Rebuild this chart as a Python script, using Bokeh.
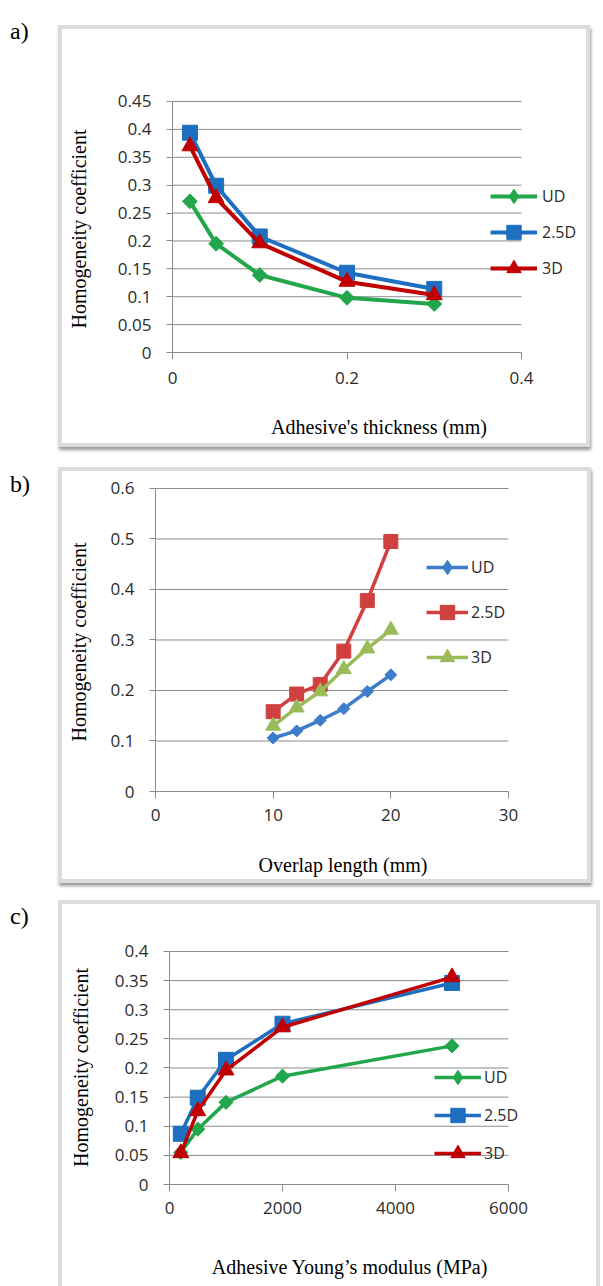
from bokeh.plotting import figure
from bokeh.models import Range1d, FixedTicker, Legend, LegendItem, Div
from bokeh.layouts import column, row
from bokeh.embed import file_html
from bokeh.resources import INLINE

# ---------------- data ----------------
series_names = ["UD", "2.5D", "3D"]

# a) adhesive thickness
a_thickness = [0.02, 0.05, 0.1, 0.2, 0.3]
a_ud = [0.271, 0.195, 0.139, 0.098, 0.087]
a_25d = [0.394, 0.299, 0.208, 0.143, 0.114]
a_3d = [0.370, 0.277, 0.196, 0.127, 0.103]
a_xticks = [0, 0.2, 0.4]
a_xtick_labels = ["0", "0.2", "0.4"]
a_yticks = [0, 0.05, 0.1, 0.15, 0.2, 0.25, 0.3, 0.35, 0.4, 0.45]
a_ytick_labels = ["0", "0.05", "0.1", "0.15", "0.2", "0.25", "0.3", "0.35", "0.4", "0.45"]

# b) overlap length
b_overlap = [10, 12, 14, 16, 18, 20]
b_ud = [0.106, 0.120, 0.141, 0.164, 0.198, 0.231]
b_25d = [0.158, 0.193, 0.212, 0.278, 0.378, 0.495]
b_3d = [0.130, 0.166, 0.198, 0.242, 0.283, 0.320]
b_xticks = [0, 10, 20, 30]
b_xtick_labels = ["0", "10", "20", "30"]
b_yticks = [0, 0.1, 0.2, 0.3, 0.4, 0.5, 0.6]
b_ytick_labels = ["0", "0.1", "0.2", "0.3", "0.4", "0.5", "0.6"]

# c) adhesive Young's modulus
c_modulus = [200, 500, 1000, 2000, 5000]
c_ud = [0.055, 0.095, 0.141, 0.186, 0.238]
c_25d = [0.087, 0.149, 0.214, 0.276, 0.346]
c_3d = [0.054, 0.126, 0.196, 0.270, 0.356]
c_xticks = [0, 2000, 4000, 6000]
c_xtick_labels = ["0", "2000", "4000", "6000"]
c_yticks = [0, 0.05, 0.1, 0.15, 0.2, 0.25, 0.3, 0.35, 0.4]
c_ytick_labels = ["0", "0.05", "0.1", "0.15", "0.2", "0.25", "0.3", "0.35", "0.4"]

GRID = "#8c8c8c"
TICKTXT = "#2b2b2b"
SANS = "Open Sans"
SERIF = "Liberation Serif"
BORDER = 4  # css border width of the panel box (shifts the canvas inside)


def make_panel(x, ys, colors, markers, legend_markers, sizes, angles, lw,
               xticks, xlabels, yticks, ylabels, xtitle, ytitle,
               W, H, mbl, mbr, mbt, mbb, x_axis_px, margin_top,
               ylab_standoff, xlab_standoff, xtick_standoff,
               leg_loc, leg_gw, leg_gh, leg_sp, leg_std, box_style):
    mbl, mbr, mbt, mbb = mbl - BORDER, mbr + BORDER, mbt - BORDER, mbb + BORDER
    frame_w = W - mbl - mbr
    frame_h = H - mbt - mbb
    x_end = xticks[-1] * frame_w / x_axis_px
    y_pad = (yticks[-1] - yticks[0]) / frame_h * 1.0
    p = figure(width=W, height=H, output_backend="svg", toolbar_location=None,
               x_range=Range1d(xticks[0], x_end),
               y_range=Range1d(yticks[0], yticks[-1] + y_pad),
               min_border_left=mbl, min_border_right=mbr,
               min_border_top=mbt, min_border_bottom=mbb,
               margin=(margin_top, 0, 0, 0), styles=box_style)
    p.outline_line_color = None
    p.xgrid.visible = False
    p.ygrid.visible = False
    p.background_fill_color = "white"
    p.border_fill_color = "white"

    # horizontal gridlines limited to the x-axis extent
    p.segment(x0=xticks[0], x1=xticks[-1], y0=yticks, y1=yticks,
              line_color=GRID, line_width=1)

    items = []
    for name, yv, col, mk, lmk, sz, ang in zip(series_names, ys, colors, markers,
                                               legend_markers, sizes, angles):
        lr = p.line(x, yv, line_color=col, line_width=lw)
        sr = p.scatter(x, yv, marker=mk, size=sz, angle=ang,
                       fill_color=col, line_color=col)
        if lmk != mk:
            # legend-only marker shape (legend glyphs ignore rotation)
            lm = p.scatter(x, yv, marker=lmk, size=sz, fill_color=col,
                           line_color=col, visible=False)
            items.append(LegendItem(label=name, renderers=[lr, lm]))
        else:
            items.append(LegendItem(label=name, renderers=[lr, sr]))

    leg = Legend(items=items, location=leg_loc, padding=0, margin=0,
                 glyph_width=leg_gw, glyph_height=leg_gh, label_height=leg_gh,
                 spacing=leg_sp, label_standoff=leg_std,
                 label_text_font=SANS, label_text_font_size="16px",
                 label_text_color=TICKTXT,
                 border_line_alpha=0, background_fill_alpha=0)
    p.add_layout(leg)

    xa = p.xaxis[0]
    xa.ticker = FixedTicker(ticks=xticks)
    xa.major_label_overrides = dict(zip(xticks, xlabels))
    xa.bounds = (xticks[0], xticks[-1])
    xa.minor_tick_line_color = None
    xa.major_tick_out = 7
    xa.major_tick_in = 0
    xa.axis_line_color = GRID
    xa.major_tick_line_color = GRID
    xa.major_label_text_font = SANS
    xa.major_label_text_font_size = "17px"
    xa.major_label_text_color = TICKTXT
    xa.major_label_standoff = xtick_standoff
    xa.axis_label = xtitle
    xa.axis_label_text_font = SERIF
    xa.axis_label_text_font_style = "normal"
    xa.axis_label_text_font_size = "20px"
    xa.axis_label_text_color = "black"
    xa.axis_label_standoff = xlab_standoff

    ya = p.yaxis[0]
    ya.ticker = FixedTicker(ticks=yticks)
    ya.major_label_overrides = dict(zip(yticks, ylabels))
    ya.bounds = (yticks[0], yticks[-1])
    ya.minor_tick_line_color = None
    ya.major_tick_out = 6
    ya.major_tick_in = 0
    ya.axis_line_color = GRID
    ya.major_tick_line_color = GRID
    ya.major_label_text_font = SANS
    ya.major_label_text_font_size = "17px"
    ya.major_label_text_color = TICKTXT
    ya.major_label_standoff = 15
    ya.axis_label = ytitle
    ya.axis_label_text_font = SERIF
    ya.axis_label_text_font_style = "normal"
    ya.axis_label_text_font_size = "20px"
    ya.axis_label_text_color = "black"
    ya.axis_label_standoff = ylab_standoff
    return p


box = {"border": f"{BORDER}px solid #dcdcdc", "box-shadow": "1px 3px 3px #9a9a9a",
       "box-sizing": "border-box"}
box_c = {"border": f"{BORDER}px solid #dcdcdc", "border-bottom": "none",
         "box-sizing": "border-box"}

diamond_angle = 0.785398
p_a = make_panel(a_thickness, [a_ud, a_25d, a_3d],
                 ["#21a64b", "#1e6fc0", "#c00000"],
                 ["square", "square", "triangle"], ["diamond", "square", "triangle"],
                 [10.5, 15, 16], [diamond_angle, 0, 0], 4,
                 a_xticks, a_xtick_labels, a_yticks, a_ytick_labels,
                 "Adhesive's thickness (mm)", "Homogeneity  coefficient",
                 W=532, H=422, mbl=114, mbr=5, mbt=75, mbb=95, x_axis_px=349, margin_top=25,
                 ylab_standoff=25, xlab_standoff=29, xtick_standoff=12,
                 leg_loc=(318, 66), leg_gw=47, leg_gh=36, leg_sp=-2, leg_std=5, box_style=box)

p_b = make_panel(b_overlap, [b_ud, b_25d, b_3d],
                 ["#3d7dcc", "#d0403e", "#9bbb59"],
                 ["square", "square", "triangle"], ["diamond", "square", "triangle"],
                 [8.5, 14, 15], [diamond_angle, 0, 0], 3.5,
                 b_xticks, b_xtick_labels, b_yticks, b_ytick_labels,
                 "Overlap length (mm)", "Homogeneity  coefficient",
                 W=533, H=416, mbl=97, mbr=61, mbt=20, mbb=92, x_axis_px=353, margin_top=20,
                 ylab_standoff=18, xlab_standoff=30, xtick_standoff=10,
                 leg_loc=(271, 116), leg_gw=42, leg_gh=36, leg_sp=9, leg_std=3, box_style=box)

p_c = make_panel(c_modulus, [c_ud, c_25d, c_3d],
                 ["#21a64b", "#1e6fc0", "#c00000"],
                 ["square", "square", "triangle"], ["diamond", "square", "triangle"],
                 [10, 15, 16], [diamond_angle, 0, 0], 3.5,
                 c_xticks, c_xtick_labels, c_yticks, c_ytick_labels,
                 "Adhesive Young\u2019s modulus (MPa)", "Homogeneity coefficient",
                 W=542, H=386, mbl=111, mbr=70, mbt=50, mbb=102, x_axis_px=339, margin_top=17,
                 ylab_standoff=20, xlab_standoff=39, xtick_standoff=10,
                 leg_loc=(265, 13), leg_gw=47, leg_gh=36, leg_sp=2, leg_std=3, box_style=box_c)


def label_div(t, pad_top):
    return Div(text=t, width=58, height=50, margin=(0, 0, 0, 0),
               styles={"font-family": SERIF, "font-size": "24px", "color": "black",
                       "padding-left": "10px", "padding-top": f"{pad_top}px",
                       "box-sizing": "border-box"})


layout = column(
    row(label_div("a)", 14), p_a),
    row(label_div("b)", 20), p_b),
    row(label_div("c)", 16), p_c),
)

open("out.html", "w").write(file_html(layout, INLINE))
